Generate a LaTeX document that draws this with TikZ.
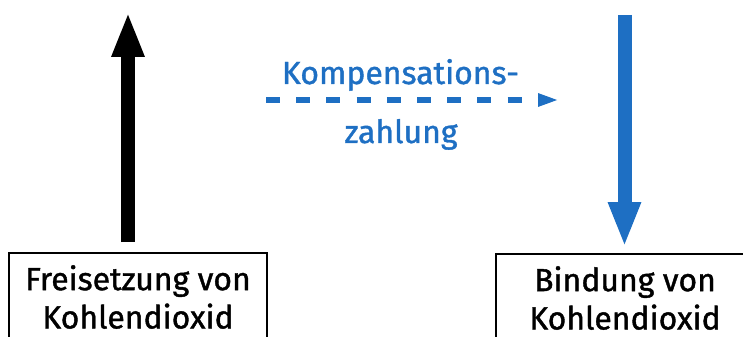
\documentclass[tikz,border=0pt]{standalone}
\usepackage{fontspec}
\setmainfont{Fira Sans}[FakeBold=1.2]
\usepackage{xcolor}
\usepackage{tikz}
\usetikzlibrary{arrows.meta,positioning,calc}
\definecolor{payblue}{HTML}{1E6FC3}
\tikzset{
  block/.style={draw, line width=0.04cm, rectangle, minimum height=1.76cm, minimum width=5.16cm,
    anchor=north, align=center, font=\fontsize{18.2}{21.8}\selectfont},
  bigflow/.style={line width=0.28cm, -{Triangle[length=0.9cm, width=0.6cm]}},
  pay/.style={payblue, line width=0.12cm, dash pattern=on 0.28cm off 0.324cm,
    -{Triangle[length=0.42cm, width=0.24cm]}},
  paylabel/.style={payblue, anchor=base, font=\fontsize{18.2}{22.1}\selectfont},
}

\begin{document}
\begin{tikzpicture}
    \useasboundingbox (0,0) rectangle (14.86,6.72);

    \node[block] (freisetzung) at (2.76,1.68) {Freisetzung von\\Kohlendioxid};
    \node[block] (bindung) at (12.5,1.66) {Bindung von\\Kohlendioxid};

    \coordinate (releasetip) at (2.56,6.48);
    \coordinate (bindtop) at (12.49,6.42);
    \coordinate (paystart) at (5.32,4.72);
    \coordinate (payend) at (11.18,4.72);

    \node[paylabel] (komp) at (8.01,5.04) {Kompensations-};
    \node[paylabel] (zahl) at (8.02,3.86) {zahlung};

    % release goes up, binding comes down
    \draw[bigflow, shorten <=0.2cm] (freisetzung.north -| releasetip) -- (releasetip);
    \draw[bigflow, payblue, shorten >=0.12cm] (bindtop) -- (bindung.north -| bindtop);
    \draw[pay] (paystart) -- (payend);

\end{tikzpicture}
\end{document}
